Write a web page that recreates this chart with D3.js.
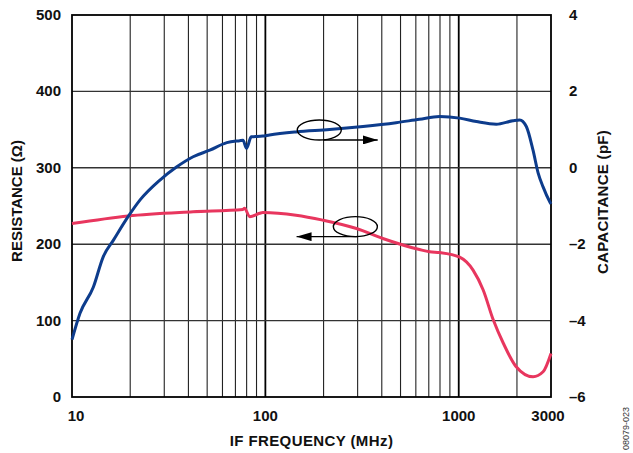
<!DOCTYPE html>
<html>
<head>
<meta charset="utf-8">
<script src="https://cdn.jsdelivr.net/npm/d3@7"></script>
<style>
  body { margin: 0; background: #fff; }
  text { font-family: "Liberation Sans", Arial, sans-serif; }
</style>
</head>
<body>
<div></div>
<script>
// frequency in MHz
const capFreq = [10, 11, 12.9, 14.5, 16.35, 19.5, 22.5, 28.5, 34.7, 42.3, 51.6, 63.2, 73.7, 76.6, 79.9, 84.5, 97, 105, 144, 215, 320, 474, 626, 796, 1011, 1234, 1564, 1906, 2066, 2236, 2422, 2575, 2730, 2955, 3000];
// capacitance pF (right axis)
const capVal = [-4.5, -3.81, -3.12, -2.33, -1.9, -1.28, -0.84, -0.32, 0.02, 0.29, 0.46, 0.66, 0.71, 0.72, 0.51, 0.81, 0.83, 0.86, 0.94, 1.0, 1.08, 1.18, 1.27, 1.34, 1.3, 1.21, 1.14, 1.23, 1.25, 1.08, 0.46, -0.14, -0.5, -0.89, -0.95];

const resFreq = [10, 19.5, 42.3, 76.6, 78, 83, 93.5, 97, 144, 198, 296, 405, 626, 707, 796, 1011, 1186, 1338, 1508, 1703, 1977, 2422, 2730, 3000];
// resistance ohm (left axis)
const resVal = [227, 237, 242.5, 245.5, 247, 236, 240.5, 241.5, 238, 231.5, 220.5, 207.5, 193, 190, 189, 183, 166, 140, 101, 70, 40, 26.5, 33, 57];

const xTicks = [10, 100, 1000, 3000];
const leftTicks = [0, 100, 200, 300, 400, 500];
const rightTicks = [-6, -4, -2, 0, 2, 4];
const minorFreq = [20, 30, 40, 50, 60, 70, 80, 90, 200, 300, 400, 500, 600, 700, 800, 900, 2000];
const majorFreq = [100, 1000];

// annotation ellipses: [freq, resistance]
const capNote = { f: 190, r: 349.5, arrowTo: 381 };
const resNote = { f: 292, r: 223, arrowTo: 145 };

const W = 633, H = 453;
const L = 72, R = 551, T = 15, B = 397;

const svg = d3.select("div").append("svg").attr("width", W).attr("height", H);

const x = d3.scaleLog().domain([10, 3000]).range([L, R]);
const yL = d3.scaleLinear().domain([0, 500]).range([B, T]);
const yR = d3.scaleLinear().domain([-6, 4]).range([B, T]);

const defs = svg.append("defs");
defs.append("marker")
  .attr("id", "head")
  .attr("viewBox", "0 0 10 6")
  .attr("refX", 10).attr("refY", 3)
  .attr("markerWidth", 15).attr("markerHeight", 9)
  .attr("markerUnits", "userSpaceOnUse")
  .attr("orient", "auto")
  .append("path").attr("d", "M0,0L10,3L0,6Z").attr("fill", "#000");

// grid
const grid = svg.append("g");
grid.selectAll(".minor").data(minorFreq).enter().append("line")
  .attr("x1", d => x(d)).attr("x2", d => x(d))
  .attr("y1", T).attr("y2", B)
  .attr("stroke", "#222").attr("stroke-width", 1.1);
grid.selectAll(".major").data(majorFreq).enter().append("line")
  .attr("x1", d => x(d)).attr("x2", d => x(d))
  .attr("y1", T).attr("y2", B)
  .attr("stroke", "#000").attr("stroke-width", 1.8);
grid.selectAll(".h").data(leftTicks.slice(1, -1)).enter().append("line")
  .attr("x1", L).attr("x2", R)
  .attr("y1", d => yL(d)).attr("y2", d => yL(d))
  .attr("stroke", "#333").attr("stroke-width", 1.4);

svg.append("rect")
  .attr("x", L).attr("y", T).attr("width", R - L).attr("height", B - T)
  .attr("fill", "none").attr("stroke", "#000").attr("stroke-width", 1.8);

// curves
const line = d3.line().curve(d3.curveMonotoneX);
svg.append("path")
  .attr("d", line(resFreq.map((f, i) => [x(f), yL(resVal[i])])))
  .attr("fill", "none").attr("stroke", "#e8365e").attr("stroke-width", 3);
svg.append("path")
  .attr("d", line(capFreq.map((f, i) => [x(f), yR(capVal[i])])))
  .attr("fill", "none").attr("stroke", "#0d3c8c").attr("stroke-width", 3);

// annotations
[capNote, resNote].forEach(n => {
  const cx = x(n.f), cy = yL(n.r);
  svg.append("ellipse")
    .attr("cx", cx).attr("cy", cy).attr("rx", 22).attr("ry", 10)
    .attr("fill", "none").attr("stroke", "#000").attr("stroke-width", 1.4);
  svg.append("line")
    .attr("x1", cx + (n.arrowTo > n.f ? 4 : 2)).attr("x2", x(n.arrowTo))
    .attr("y1", cy + 10).attr("y2", cy + 10)
    .attr("stroke", "#000").attr("stroke-width", 1.4)
    .attr("marker-end", "url(#head)");
});

// tick labels
const lbl = { "font-size": "15px", "font-weight": "bold", fill: "#111" };
function style(sel) { Object.entries(lbl).forEach(([k, v]) => sel.attr(k, v)); return sel; }

style(svg.selectAll(".xt").data(xTicks).enter().append("text")
  .attr("x", (d, i) => x(d) + (i === 0 ? 4 : (i === xTicks.length - 1 ? -3 : 0)))
  .attr("y", 421).attr("text-anchor", "middle")
  .text(d => d));

style(svg.selectAll(".yl").data(leftTicks).enter().append("text")
  .attr("x", 61).attr("y", d => yL(d) + 5).attr("text-anchor", "end")
  .text(d => d));

style(svg.selectAll(".yr").data(rightTicks).enter().append("text")
  .attr("x", 569).attr("y", d => yR(d) + 5).attr("text-anchor", "start")
  .text(d => d < 0 ? "\u2013" + Math.abs(d) : d));

// axis titles
style(svg.append("text")
  .attr("x", (L + R) / 2).attr("y", 446).attr("text-anchor", "middle")
  .attr("letter-spacing", 0.4)
  .text("IF FREQUENCY (MHz)"));

style(svg.append("text")
  .attr("transform", "translate(22,201) rotate(-90)").attr("text-anchor", "middle")
  .attr("font-size", "14px")
  .text("RESISTANCE (\u03A9)"));

style(svg.append("text")
  .attr("transform", "translate(608,202) rotate(-90)").attr("text-anchor", "middle")
  .attr("font-size", "14px").attr("letter-spacing", 0.3)
  .text("CAPACITANCE (pF)"));

svg.append("text")
  .attr("transform", "translate(629,450) rotate(-90)")
  .attr("font-size", "9px").attr("fill", "#333")
  .text("08079-023");
</script>
</body>
</html>
